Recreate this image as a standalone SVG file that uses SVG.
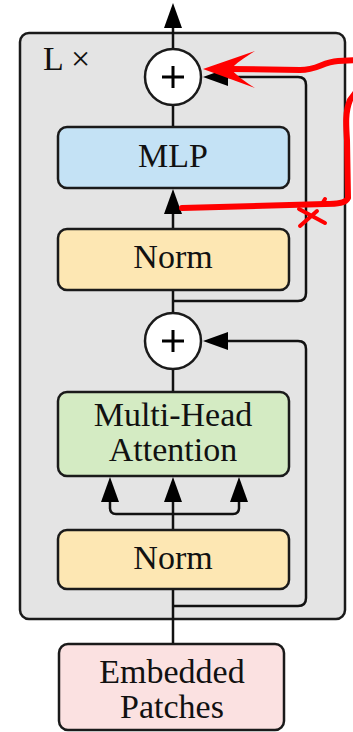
<svg xmlns="http://www.w3.org/2000/svg" width="353" height="732" viewBox="0 0 353 732">
<defs>
<marker id="arr" viewBox="0 0 25 18" refX="15" refY="9" markerWidth="25" markerHeight="18" markerUnits="userSpaceOnUse" orient="auto">
<path d="M0,0 L25,9 L0,18 Z" fill="#000"/>
</marker>
<style>
.box{stroke:#1a1a1a;stroke-width:2.5}
.lbl{font-family:"Liberation Serif","Times New Roman",serif;font-size:34px;fill:#111;text-anchor:middle}
.ln{fill:none;stroke:#111;stroke-width:2.5}
.red{fill:none;stroke:#ff0000;stroke-width:6;stroke-linecap:round;stroke-linejoin:round}
</style>
</defs>
<rect width="353" height="732" fill="#fff"/>
<g id="block">
<rect x="20" y="33" width="325" height="586" rx="9" fill="#e4e4e4" class="box"/>
<text x="43" y="70" class="lbl" style="text-anchor:start">L ×</text>
</g>
<g id="connectors">
<path class="ln" d="M173 644 V589"/>
<path class="ln" d="M173 606 H298 Q306 606 306 598 V349 Q306 341 298 341 H213" marker-end="url(#arr)"/>
<path class="ln" d="M173 530 V487" marker-end="url(#arr)"/>
<path class="ln" d="M173 514 H116 Q110 514 110 508 V487" marker-end="url(#arr)"/>
<path class="ln" d="M173 514 H233 Q239 514 239 508 V487" marker-end="url(#arr)"/>
<path class="ln" d="M173 392 V369"/>
<path class="ln" d="M173 313 V290"/>
<path class="ln" d="M173 301 H298 Q306 301 306 293 V85 Q306 77 298 77 H213" marker-end="url(#arr)"/>
<path class="ln" d="M173 229 V199" marker-end="url(#arr)"/>
<path class="ln" d="M173 127 V105"/>
<path class="ln" d="M173 49 V13" marker-end="url(#arr)"/>
</g>
<g id="embedded">
<rect x="59" y="644" width="225" height="86" rx="9" fill="#fbe1e1" class="box"/>
<text class="lbl"><tspan x="172" y="683">Embedded</tspan><tspan x="172" y="718">Patches</tspan></text>
</g>
<g id="norm2">
<rect x="58" y="530" width="231" height="59" rx="9" fill="#fde7b3" class="box"/>
<text x="173" y="569" class="lbl">Norm</text>
</g>
<g id="mha">
<rect x="58" y="392" width="231" height="84" rx="9" fill="#d4ebc3" class="box"/>
<text class="lbl"><tspan x="173" y="426">Multi-Head</tspan><tspan x="173" y="461">Attention</tspan></text>
</g>
<g id="add2">
<circle cx="173" cy="341" r="28" fill="#fff" class="box"/>
<path d="M162 341 H184 M173 330 V352" stroke="#000" stroke-width="3"/>
</g>
<g id="norm1">
<rect x="58" y="229" width="231" height="61" rx="9" fill="#fde7b3" class="box"/>
<text x="173" y="268" class="lbl">Norm</text>
</g>
<g id="mlp">
<rect x="58" y="127" width="231" height="61" rx="9" fill="#c4e2f5" class="box"/>
<text x="173" y="167" class="lbl">MLP</text>
</g>
<g id="add1">
<circle cx="173" cy="77" r="28" fill="#fff" class="box"/>
<path d="M162 77 H184 M173 66 V88" stroke="#000" stroke-width="3"/>
</g>
<g id="annotation">
<path class="red" d="M230 69 L300 70 C318 70 322 62 338 61 L356 60 M356 92 L350 100 C345 112 346 125 347 140 L348 198 C346 203 338 204 325 204 L182 208"/>
<path d="M203 69 L255 51 C244 58 236 63 231 69 C236 75 244 81 255 88 Z" fill="#ff0000"/>
<path class="red" style="stroke-width:4" d="M299 209 L325 223 M300 226 L317 211 M322 204 L325 199"/>
</g>
</svg>
